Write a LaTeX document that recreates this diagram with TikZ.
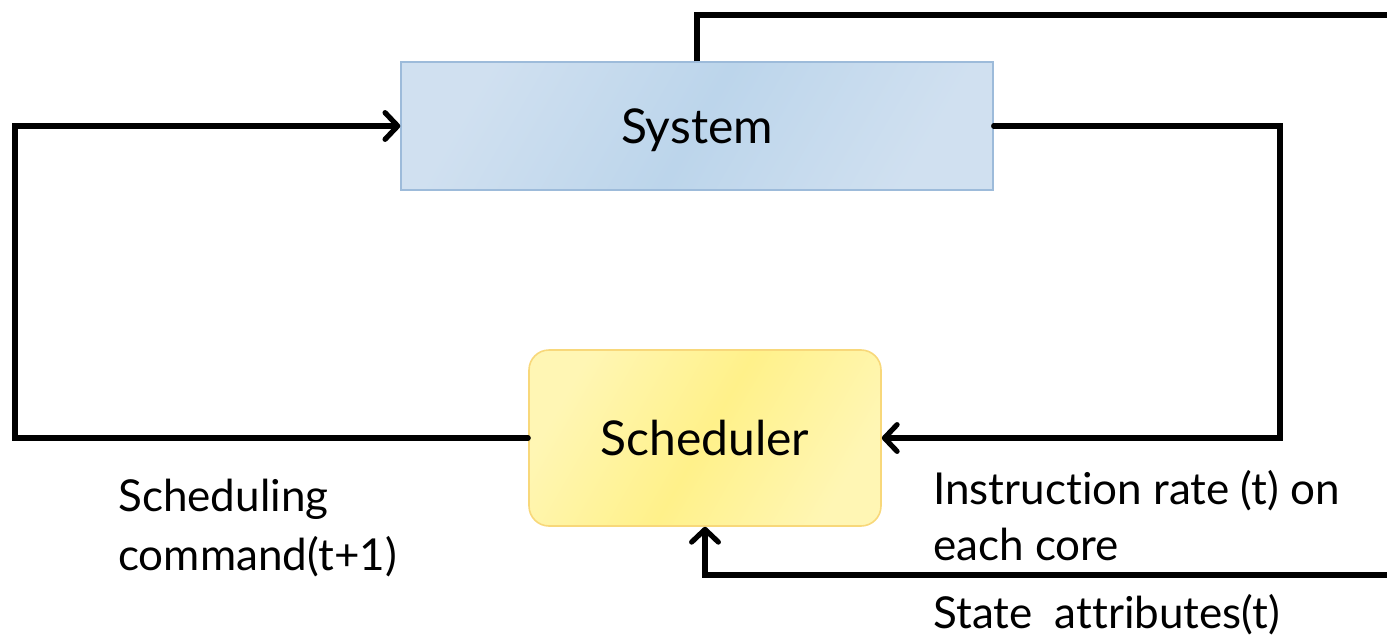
\documentclass[tikz,border=0pt]{standalone}
\usepackage{fontspec}
\setmainfont{Lato}[Ligatures={NoCommon}]
\usetikzlibrary{arrows.meta}
\definecolor{sysfill}{HTML}{BCD5EB}
\definecolor{sysedge}{HTML}{9DBBDA}
\definecolor{sysfillL}{HTML}{D0E0F0}
\definecolor{schfill}{HTML}{FFF18A}
\definecolor{schfillL}{HTML}{FFF6B4}
\definecolor{schedge}{HTML}{F8D87A}
\tikzset{
  wire/.style={line width=3.9pt, line cap=round, line join=miter, draw=black},
  tip/.style={-{Straight Barb[length=9.5pt,width=20pt,line cap=round,line join=round]}},
  sysbox/.style={rectangle, draw=sysedge, line width=1pt,
    left color=sysfillL, right color=sysfillL, middle color=sysfill, shading angle=60,
    minimum width=444pt, minimum height=96pt, inner sep=0pt, text depth=0pt,
    font=\fontsize{36}{40}\selectfont},
  schbox/.style={rectangle, rounded corners=15pt, draw=schedge, line width=1.2pt,
    left color=schfillL, right color=schfillL, middle color=schfill, shading angle=60,
    minimum width=264pt, minimum height=132pt, inner sep=0pt,
    font=\fontsize{36}{40}\selectfont},
  lbl/.style={anchor=base west, inner sep=0pt, align=left,
    font=\fontsize{33}{43}\selectfont}
}
\begin{document}
\begin{tikzpicture}[x=0.75pt, y=-0.75pt]
  \useasboundingbox (0,0) rectangle (1387,638);

  % blocks
  \node[sysbox] (sys) at (697,126) {System};
  \node[schbox] (sch) at (705,438) {Scheduler};

  % free ends and corners of the loops
  \coordinate (lt) at (15,126);
  \coordinate (rt) at (1280,126);
  \coordinate (topend) at (1387,15);
  \coordinate (botend) at (1387,575);

  % feedback loops
  \draw[wire, tip] (sch.west) -| (lt) -- (sys.west);
  \draw[wire, tip] (sys.east) -- (rt) |- (sch.east);
  \draw[wire, line cap=butt] (sys.north) |- (topend);
  \draw[wire, tip] (botend) -| (sch.south);

  % labels (anchored at the baseline of their last line)
  \node[lbl, font=\fontsize{33}{44}\selectfont] (cmd) at (118,570) {Scheduling\\command(t+1)};
  \node[lbl, font=\fontsize{33}{42}\selectfont] (rate) at (933,560) {Instruction rate (t) on\\each core};
  \node[lbl] (state) at (933,628) {State\ \ attributes(t)};
\end{tikzpicture}
\end{document}
